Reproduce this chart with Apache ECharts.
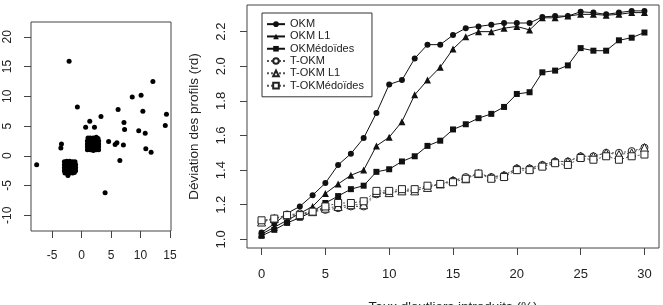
<!DOCTYPE html>
<html>
<head>
<meta charset="utf-8">
<script src="https://cdn.jsdelivr.net/npm/echarts@6/dist/echarts.min.js"></script>
<style>
  html, body { margin: 0; padding: 0; background: #fff; }
  #main { width: 663px; height: 305px; }
</style>
</head>
<body>
<div id="main"></div>
<script>
// panneau de gauche : nuage de points (x, y)
var scatterPoints = [
    [-7.6, -1.5], [-2.1, 15.9], [-0.7, 8.2], [-3.4, 2.0], [-3.5, 1.3],
    [0.7, 4.8], [1.4, 5.8], [2.2, 4.8], [3.3, 6.6], [4.6, 2.4],
    [4.0, -6.2], [5.7, 1.9], [6.0, 2.2], [6.2, 7.8], [6.5, -0.8],
    [7.1, 1.8], [7.2, 5.6], [7.3, 4.4], [8.6, 9.9], [9.7, 4.2],
    [10.1, 10.2], [10.4, 7.5], [10.8, 3.8], [10.9, 1.2], [11.8, 0.6],
    [12.1, 12.5], [14.2, 5.1], [14.4, 7.0]
];
// les deux amas denses
var clusterA = [
    [1.0, 1.0], [1.5, 1.0], [2.0, 0.9], [2.5, 1.0], [2.9, 1.0],
    [1.0, 1.5], [1.5, 1.5], [2.0, 1.5], [2.5, 1.5], [2.9, 1.5],
    [1.0, 2.0], [1.5, 2.0], [2.0, 2.0], [2.5, 2.0], [2.9, 2.0],
    [1.0, 2.5], [1.5, 2.5], [2.0, 2.5], [2.5, 2.5], [2.9, 2.5],
    [1.1, 3.0], [1.5, 3.0], [2.0, 3.0], [2.5, 3.1], [2.8, 2.9]
];
var clusterB = [
    [-2.9, -1.0], [-2.5, -0.9], [-2.0, -0.9], [-1.5, -1.0], [-1.1, -1.0],
    [-2.9, -1.5], [-2.5, -1.5], [-2.0, -1.5], [-1.5, -1.5], [-1.0, -1.5],
    [-2.9, -2.0], [-2.5, -2.0], [-2.0, -2.0], [-1.5, -2.0], [-1.0, -2.0],
    [-2.9, -2.5], [-2.5, -2.5], [-2.0, -2.5], [-1.5, -2.5], [-1.0, -2.5],
    [-2.8, -2.9], [-2.4, -2.9], [-2.0, -2.9], [-1.5, -2.9], [-1.2, -2.8],
    [-2.3, -3.3]
];

// panneau de droite : déviation des profils selon le taux d'outliers
var taux = [0, 1, 2, 3, 4, 5, 6, 7, 8, 9, 10, 11, 12, 13, 14, 15,
    16, 17, 18, 19, 20, 21, 22, 23, 24, 25, 26, 27, 28, 29, 30];
var okm = [1.04, 1.09, 1.15, 1.19, 1.255, 1.325, 1.43, 1.495, 1.585, 1.73, 1.895, 1.92, 2.045, 2.125, 2.125, 2.18,
    2.22, 2.23, 2.24, 2.25, 2.25, 2.25, 2.285, 2.29, 2.29, 2.315, 2.31, 2.30, 2.31, 2.32, 2.32];
var okmL1 = [1.03, 1.07, 1.11, 1.15, 1.19, 1.265, 1.32, 1.37, 1.40, 1.54, 1.59, 1.68, 1.835, 1.92, 1.995, 2.10,
    2.17, 2.20, 2.20, 2.22, 2.23, 2.21, 2.28, 2.28, 2.29, 2.30, 2.30, 2.295, 2.30, 2.31, 2.31];
var okmMed = [1.02, 1.055, 1.095, 1.125, 1.16, 1.21, 1.25, 1.29, 1.31, 1.39, 1.405, 1.45, 1.48, 1.54, 1.57, 1.635,
    1.665, 1.70, 1.725, 1.765, 1.84, 1.85, 1.965, 1.975, 2.005, 2.105, 2.09, 2.09, 2.15, 2.165, 2.195];
var tOkm = [1.10, 1.12, 1.14, 1.15, 1.16, 1.17, 1.18, 1.19, 1.19, 1.26, 1.27, 1.28, 1.28, 1.30, 1.32, 1.34,
    1.36, 1.38, 1.36, 1.37, 1.41, 1.41, 1.43, 1.45, 1.45, 1.48, 1.48, 1.50, 1.50, 1.51, 1.53];
var tOkmL1 = [1.10, 1.12, 1.14, 1.14, 1.16, 1.18, 1.19, 1.20, 1.20, 1.27, 1.27, 1.28, 1.28, 1.30, 1.32, 1.34,
    1.35, 1.38, 1.36, 1.37, 1.41, 1.41, 1.43, 1.45, 1.45, 1.48, 1.48, 1.50, 1.49, 1.50, 1.53];
var tOkmMed = [1.11, 1.12, 1.14, 1.14, 1.16, 1.19, 1.21, 1.21, 1.22, 1.28, 1.28, 1.29, 1.29, 1.31, 1.32, 1.33,
    1.35, 1.38, 1.35, 1.36, 1.40, 1.40, 1.42, 1.44, 1.43, 1.47, 1.46, 1.48, 1.46, 1.48, 1.49];

var xTicksLeft = [-5, 0, 5, 10, 15];
var yTicksLeft = [-10, -5, 0, 5, 10, 15, 20];
var xTicksRight = [0, 5, 10, 15, 20, 25, 30];
var yTicksRight = [1.0, 1.2, 1.4, 1.6, 1.8, 2.0, 2.2];

function pairs(xs, ys) {
    return xs.map(function (x, i) { return [x, ys[i]]; });
}

var myChart = echarts.init(document.getElementById('main'));
window.onresize = function () {
    myChart.resize();
};

var fontFam = 'Liberation Sans, Arial, sans-serif';
var txt = '#222';

function axisBase(ticks, size, margin, rotate, fmt) {
    return {
        type: 'value',
        splitLine: { show: false },
        axisLine: { show: false, onZero: false },
        axisTick: { show: true, length: 7, customValues: ticks, lineStyle: { color: '#444' } },
        axisLabel: {
            customValues: ticks, margin: margin, rotate: rotate,
            fontSize: size, color: txt, fontFamily: fontFam,
            formatter: fmt
        }
    };
}

function lineSerie(name, data, symbol, size, open) {
    return {
        name: name,
        type: 'line',
        xAxisIndex: 1,
        yAxisIndex: 1,
        data: pairs(taux, data),
        symbol: symbol,
        symbolSize: size,
        showSymbol: true,
        showAllSymbol: true,
        animation: false,
        lineStyle: { color: open ? '#555' : '#111', width: 1, type: open ? [2, 2] : 'solid' },
        itemStyle: open
            ? { color: '#fff', borderColor: '#222', borderWidth: 1 }
            : { color: '#111', borderColor: '#111', borderWidth: 0 }
    };
}

var xl = axisBase(xTicksLeft, 12, 19, 0);
xl.gridIndex = 0; xl.min = -8.56; xl.max = 15.17;
var yl = axisBase(yTicksLeft, 12, 17, 90);
yl.gridIndex = 0; yl.min = -12.65; yl.max = 22.5;

var xr = axisBase(xTicksRight, 13, 20, 0);
xr.gridIndex = 1; xr.min = -1.14; xr.max = 31.14;
xr.name = "Taux d'outliers introduits (%)";
xr.nameLocation = 'middle';
xr.nameGap = 52;
xr.nameTextStyle = { fontSize: 13.5, color: txt, fontFamily: fontFam };

var yr = axisBase(yTicksRight, 13, 19, 90, function (v) { return v.toFixed(1); });
yr.gridIndex = 1; yr.min = 0.95; yr.max = 2.354;
yr.name = 'Déviation des profils (rd)';
yr.nameLocation = 'middle';
yr.nameGap = 46;
yr.nameTextStyle = { fontSize: 13.5, color: txt, fontFamily: fontFam };

var option = {
    animation: false,
    backgroundColor: '#fff',
    grid: [
        { left: 31, top: 22, width: 140, height: 209, show: true, borderColor: '#444', borderWidth: 1,
          containLabel: false, outerBoundsMode: 'none' },
        { left: 247, top: 5, width: 412, height: 243, show: true, borderColor: '#444', borderWidth: 1,
          containLabel: false, outerBoundsMode: 'none' }
    ],
    xAxis: [xl, xr],
    yAxis: [yl, yr],
    legend: {
        orient: 'vertical',
        left: 262,
        top: 13,
        data: ['OKM', 'OKM L1', 'OKMédoïdes', 'T-OKM', 'T-OKM L1', 'T-OKMédoïdes'],
        borderColor: '#333',
        borderWidth: 1,
        padding: [5, 8, 5, 4],
        itemGap: 0,
        itemWidth: 18,
        itemHeight: 7,
        textStyle: { fontSize: 11, color: txt, fontFamily: fontFam, lineHeight: 12.3 }
    },
    series: [
        {
            type: 'scatter', xAxisIndex: 0, yAxisIndex: 0,
            data: scatterPoints.concat(clusterA, clusterB),
            symbolSize: 5, itemStyle: { color: '#000', opacity: 1 }
        },
        lineSerie('OKM', okm, 'circle', 6, false),
        lineSerie('OKM L1', okmL1, 'triangle', 7, false),
        lineSerie('OKMédoïdes', okmMed, 'rect', 6, false),
        lineSerie('T-OKM', tOkm, 'circle', 7, true),
        lineSerie('T-OKM L1', tOkmL1, 'triangle', 8, true),
        lineSerie('T-OKMédoïdes', tOkmMed, 'rect', 7, true)
    ]
};

myChart.setOption(option);
</script>
</body>
</html>
